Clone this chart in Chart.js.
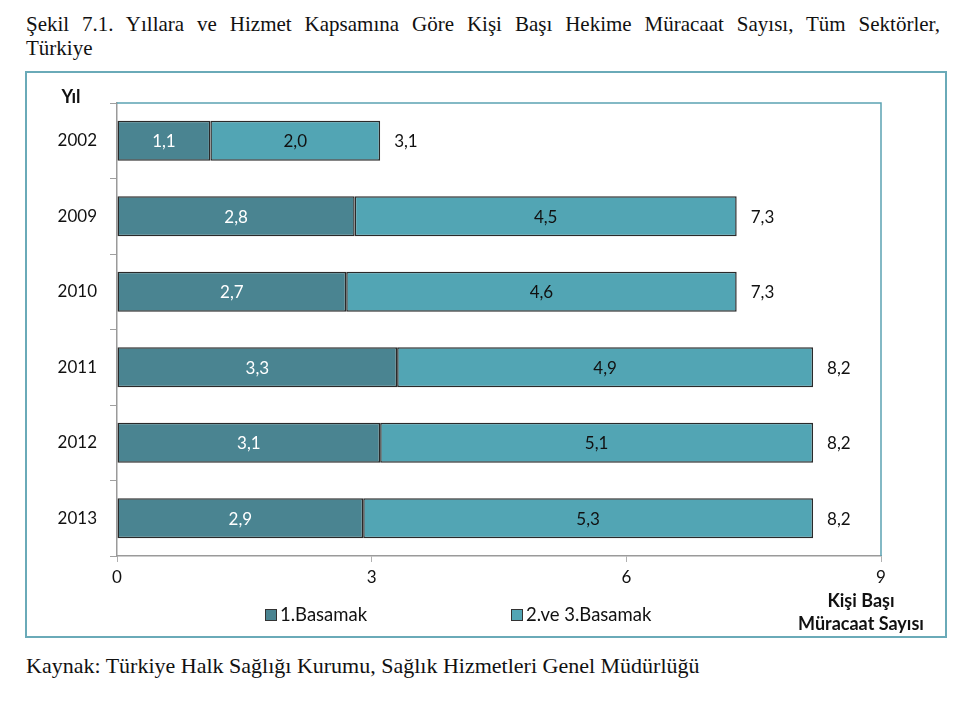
<!DOCTYPE html>
<html>
<head>
<meta charset="utf-8">
<script src="https://cdn.jsdelivr.net/npm/chart.js@4"></script>
<style>
  body { margin: 0; background: #fff; width: 967px; height: 710px; position: relative; }
  .cap { position: absolute; font-family: "Liberation Serif", "Times New Roman", serif; color: #111; white-space: nowrap; }
  #title { left: 26px; top: 13px; width: 914px; font-size: 21px; line-height: 23px; text-align: justify; text-align-last: justify; white-space: normal; }
  #title2 { left: 26px; top: 37px; font-size: 21px; line-height: 23px; }
  #src { left: 26px; top: 654px; font-size: 22px; line-height: 24px; }
  #frame { position: absolute; left: 25px; top: 71px; width: 922px; height: 567px; border: 2px solid #6AAAB8; box-sizing: border-box; }
</style>
</head>
<body>
<div class="cap" id="title">Şekil 7.1. Yıllara ve Hizmet Kapsamına Göre Kişi Başı Hekime Müracaat Sayısı, Tüm Sektörler,</div>
<div class="cap" id="title2">Türkiye</div>
<div id="frame"><canvas id="myChart"></canvas></div>
<div class="cap" id="src">Kaynak: Türkiye Halk Sağlığı Kurumu, Sağlık Hizmetleri Genel Müdürlüğü</div>
<script>
let years = ['2002', '2009', '2010', '2011', '2012', '2013'];
let basamak1 = [1.1, 2.8, 2.7, 3.3, 3.1, 2.9];
let basamak23 = [2.0, 4.5, 4.6, 4.9, 5.1, 5.3];
let totals = [3.1, 7.3, 7.3, 8.2, 8.2, 8.2];
let xTicks = [0, 3, 6, 9];
let seriesNames = ['1.Basamak', '2.ve 3.Basamak'];
let colors = ['#4A8491', '#52A5B4'];

const font = 'Lato, "Open Sans", sans-serif';
const fmt = v => v.toFixed(1).replace('.', ',');

// labels inside bars, totals, legend, axis titles
const extras = {
  id: 'extras',
  afterDatasetsDraw(chart) {
    const ctx = chart.ctx;
    const area = chart.chartArea;
    ctx.save();
    ctx.strokeStyle = '#5BA3B3';
    ctx.lineWidth = 1.5;
    ctx.beginPath();
    ctx.moveTo(area.left, area.top);
    ctx.lineTo(area.right, area.top);
    ctx.lineTo(area.right, area.bottom);
    ctx.stroke();

    ctx.font = '17px ' + font;
    ctx.textBaseline = 'middle';
    ctx.textAlign = 'center';
    chart.data.datasets.forEach((ds, i) => {
      chart.getDatasetMeta(i).data.forEach((bar, j) => {
        ctx.fillStyle = i === 0 ? '#fff' : '#111';
        ctx.fillText(fmt(ds.data[j]), (bar.x + bar.base) / 2, bar.y + 1);
      });
    });
    const xs = chart.scales.x;
    ctx.fillStyle = '#111';
    ctx.textAlign = 'left';
    chart.getDatasetMeta(1).data.forEach((bar, j) => {
      ctx.fillText(fmt(totals[j]), xs.getPixelForValue(totals[j]) + 14, bar.y + 1);
    });

    // legend
    const legendX = [238, 484];
    ctx.font = '18.5px ' + font;
    ctx.textAlign = 'left';
    seriesNames.forEach((name, i) => {
      ctx.fillStyle = colors[i];
      ctx.fillRect(legendX[i], 536, 12, 12);
      ctx.strokeStyle = '#333';
      ctx.lineWidth = 1;
      ctx.strokeRect(legendX[i] + 0.5, 536.5, 11, 11);
      ctx.fillStyle = '#111';
      ctx.fillText(name, legendX[i] + 15, 542);
    });

    // axis titles
    ctx.font = 'bold 18px ' + font;
    ctx.textAlign = 'center';
    ctx.fillText('Yıl', 44, 24);
    ctx.fillText('Kişi Başı', 834, 528);
    ctx.fillText('Müracaat Sayısı', 834, 551);
    ctx.restore();
  }
};

const chart1 = new Chart(document.getElementById('myChart'), {
  type: 'bar',
  data: {
    labels: years,
    datasets: seriesNames.map((name, i) => ({
      label: name,
      data: i === 0 ? basamak1 : basamak23,
      backgroundColor: colors[i],
      borderColor: '#2a2a2a',
      borderWidth: 1.5,
      borderSkipped: false,
      barPercentage: 0.53,
      categoryPercentage: 1
    }))
  },
  options: {
    indexAxis: 'y',
    responsive: true,
    maintainAspectRatio: false,
    animation: false,
    layout: { padding: { left: 0, right: 64, top: 30, bottom: 0 } },
    plugins: { legend: { display: false }, tooltip: { enabled: false } },
    scales: {
      x: {
        stacked: true,
        min: 0,
        max: 9,
        afterBuildTicks: s => { s.ticks = xTicks.map(v => ({ value: v })); },
        afterFit: s => { s.height = 80; },
        border: { color: '#9a9a9a', width: 1.5 },
        grid: { drawOnChartArea: false, drawTicks: true, tickLength: 6, color: '#b0b0b0' },
        ticks: { color: '#111', font: { family: font, size: 17 }, padding: 5 }
      },
      y: {
        stacked: true,
        afterFit: s => { s.width = 90; },
        border: { color: '#9a9a9a', width: 1.5 },
        grid: { drawOnChartArea: false, drawTicks: true, tickLength: 7, color: '#a0a0a0', offset: true },
        ticks: { color: '#111', font: { family: font, size: 17 }, padding: 13 }
      }
    }
  },
  plugins: [extras]
});
</script>
</body>
</html>
